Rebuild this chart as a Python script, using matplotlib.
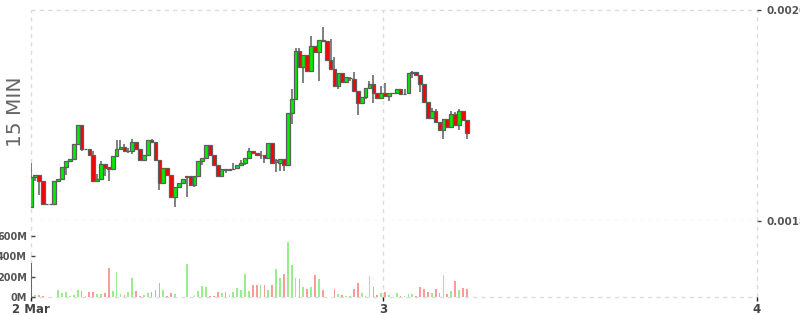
import numpy as np
import matplotlib.pyplot as plt
from matplotlib.ticker import FormatStrFormatter

plt.rcParams['font.family'] = 'DejaVu Sans'
plt.rcParams['font.weight'] = 'bold'

# 15 min candles
opens = [0.0018136, 0.0018420, 0.0018433, 0.0018376, 0.0018158, 0.0018158, 0.0018158, 0.0018376, 0.0018395, 0.0018515,
         0.0018566, 0.0018585, 0.0018727, 0.0018907, 0.0018685, 0.0018685, 0.0018623, 0.0018376, 0.0018395, 0.0018537,
         0.0018515, 0.0018490, 0.0018616, 0.0018680, 0.0018699, 0.0018666, 0.0018666, 0.0018746, 0.0018680, 0.0018578,
         0.0018623, 0.0018765, 0.0018746, 0.0018578, 0.0018357, 0.0018500, 0.0018433, 0.0018225, 0.0018319, 0.0018357,
         0.0018414, 0.0018427, 0.0018338, 0.0018427, 0.0018566, 0.0018597, 0.0018718, 0.0018623, 0.0018528, 0.0018427,
         0.0018496, 0.0018483, 0.0018496, 0.0018502, 0.0018528, 0.0018547, 0.0018597, 0.0018666, 0.0018642, 0.0018626,
         0.0018626, 0.0018597, 0.0018742, 0.0018555, 0.0018547, 0.0018591, 0.0018528, 0.0019027, 0.0019154, 0.0019609,
         0.0019457, 0.0019571, 0.0019419, 0.0019659, 0.0019602, 0.0019716, 0.0019703, 0.0019526, 0.0019444, 0.0019280,
         0.0019406, 0.0019318, 0.0019355, 0.0019349, 0.0019229, 0.0019116, 0.0019178, 0.0019258, 0.0019296, 0.0019210,
         0.0019166, 0.0019216, 0.0019185, 0.0019210, 0.0019210, 0.0019248, 0.0019204, 0.0019210, 0.0019400, 0.0019410,
         0.0019381, 0.0019296, 0.0019125, 0.0018973, 0.0019040, 0.0018936, 0.0018863, 0.0018970, 0.0018888, 0.0019017,
         0.0018907, 0.0019040, 0.0018957]
highs = [0.0018553, 0.0018433, 0.0018433, 0.0018376, 0.0018158, 0.0018158, 0.0018376, 0.0018395, 0.0018515, 0.0018566,
         0.0018585, 0.0018727, 0.0018907, 0.0018907, 0.0018685, 0.0018685, 0.0018666, 0.0018445, 0.0018569, 0.0018537,
         0.0018515, 0.0018616, 0.0018768, 0.0018768, 0.0018730, 0.0018692, 0.0018774, 0.0018746, 0.0018680, 0.0018623,
         0.0018765, 0.0018777, 0.0018746, 0.0018578, 0.0018500, 0.0018500, 0.0018433, 0.0018319, 0.0018357, 0.0018401,
         0.0018427, 0.0018427, 0.0018427, 0.0018566, 0.0018597, 0.0018718, 0.0018718, 0.0018623, 0.0018528, 0.0018496,
         0.0018496, 0.0018496, 0.0018547, 0.0018528, 0.0018578, 0.0018597, 0.0018689, 0.0018666, 0.0018642, 0.0018666,
         0.0018626, 0.0018742, 0.0018742, 0.0018591, 0.0018591, 0.0018591, 0.0019027, 0.0019248, 0.0019637, 0.0019637,
         0.0019571, 0.0019571, 0.0019754, 0.0019659, 0.0019716, 0.0019836, 0.0019703, 0.0019722, 0.0019552, 0.0019406,
         0.0019406, 0.0019362, 0.0019368, 0.0019412, 0.0019229, 0.0019178, 0.0019258, 0.0019327, 0.0019384, 0.0019210,
         0.0019280, 0.0019305, 0.0019210, 0.0019210, 0.0019248, 0.0019248, 0.0019248, 0.0019400, 0.0019422, 0.0019410,
         0.0019381, 0.0019296, 0.0019125, 0.0019071, 0.0019059, 0.0018936, 0.0018970, 0.0018970, 0.0019045, 0.0019033,
         0.0019059, 0.0019040, 0.0018957]
lows = [0.0018136, 0.0018382, 0.0018246, 0.0018158, 0.0018158, 0.0018158, 0.0018158, 0.0018376, 0.0018395, 0.0018436,
        0.0018566, 0.0018585, 0.0018727, 0.0018666, 0.0018685, 0.0018623, 0.0018376, 0.0018376, 0.0018395, 0.0018429,
        0.0018382, 0.0018490, 0.0018616, 0.0018680, 0.0018661, 0.0018642, 0.0018632, 0.0018680, 0.0018578, 0.0018578,
        0.0018623, 0.0018746, 0.0018578, 0.0018294, 0.0018357, 0.0018433, 0.0018225, 0.0018136, 0.0018319, 0.0018357,
        0.0018230, 0.0018338, 0.0018322, 0.0018427, 0.0018528, 0.0018597, 0.0018623, 0.0018528, 0.0018427, 0.0018427,
        0.0018452, 0.0018483, 0.0018483, 0.0018502, 0.0018528, 0.0018528, 0.0018597, 0.0018642, 0.0018626, 0.0018585,
        0.0018547, 0.0018597, 0.0018547, 0.0018467, 0.0018477, 0.0018477, 0.0018528, 0.0018919, 0.0019154, 0.0019457,
        0.0019311, 0.0019419, 0.0019419, 0.0019602, 0.0019330, 0.0019703, 0.0019526, 0.0019444, 0.0019280, 0.0019248,
        0.0019318, 0.0019318, 0.0019330, 0.0019229, 0.0019008, 0.0019116, 0.0019159, 0.0019258, 0.0019121, 0.0019166,
        0.0019166, 0.0019185, 0.0019135, 0.0019210, 0.0019210, 0.0019204, 0.0019204, 0.0019210, 0.0019351, 0.0019381,
        0.0019226, 0.0019125, 0.0018973, 0.0018973, 0.0018936, 0.0018863, 0.0018774, 0.0018888, 0.0018888, 0.0018907,
        0.0018860, 0.0018957, 0.0018780]
closes = [0.0018420, 0.0018433, 0.0018376, 0.0018158, 0.0018158, 0.0018158, 0.0018376, 0.0018395, 0.0018515, 0.0018566,
          0.0018585, 0.0018727, 0.0018907, 0.0018685, 0.0018685, 0.0018623, 0.0018376, 0.0018401, 0.0018537, 0.0018505,
          0.0018490, 0.0018616, 0.0018680, 0.0018699, 0.0018661, 0.0018666, 0.0018746, 0.0018680, 0.0018578, 0.0018623,
          0.0018765, 0.0018746, 0.0018578, 0.0018357, 0.0018500, 0.0018433, 0.0018225, 0.0018319, 0.0018357, 0.0018401,
          0.0018427, 0.0018338, 0.0018427, 0.0018566, 0.0018597, 0.0018718, 0.0018623, 0.0018528, 0.0018427, 0.0018496,
          0.0018483, 0.0018496, 0.0018496, 0.0018528, 0.0018547, 0.0018597, 0.0018666, 0.0018642, 0.0018626, 0.0018626,
          0.0018597, 0.0018742, 0.0018547, 0.0018580, 0.0018591, 0.0018528, 0.0019027, 0.0019154, 0.0019609, 0.0019457,
          0.0019571, 0.0019419, 0.0019659, 0.0019602, 0.0019716, 0.0019703, 0.0019526, 0.0019444, 0.0019280, 0.0019406,
          0.0019318, 0.0019362, 0.0019355, 0.0019229, 0.0019116, 0.0019178, 0.0019258, 0.0019296, 0.0019210, 0.0019166,
          0.0019216, 0.0019185, 0.0019210, 0.0019210, 0.0019248, 0.0019204, 0.0019204, 0.0019400, 0.0019410, 0.0019381,
          0.0019296, 0.0019125, 0.0018973, 0.0019040, 0.0018936, 0.0018863, 0.0018970, 0.0018888, 0.0019017, 0.0018907,
          0.0019040, 0.0018957, 0.0018831]
# volume in millions
volumes = [338, 16, 16, 7, 0, 0, 0, 69, 39, 46,
           7, 16, 69, 56, 7, 46, 46, 26, 26, 36,
           282, 56, 243, 26, 16, 46, 184, 56, 7, 16,
           36, 46, 66, 135, 66, 7, 36, 26, 0, 0,
           322, 0, 16, 56, 105, 95, 7, 7, 46, 36,
           46, 16, 46, 85, 66, 223, 56, 115, 115, 115,
           115, 66, 115, 272, 184, 223, 538, 312, 184, 174,
           95, 75, 95, 213, 174, 66, 0, 0, 75, 26,
           16, 7, 7, 75, 135, 36, 7, 204, 95, 16,
           36, 46, 16, 0, 36, 7, 7, 26, 26, 7,
           95, 75, 46, 36, 75, 36, 213, 26, 56, 154,
           66, 85, 75]

# candle index of midnight 3 Mar, 96 candles per day
day_start = 90.6
day_labels = ['2 Mar', '3', '4']
price_ticks = [0.0018, 0.0020]
vol_ticks = [0, 200, 400, 600]

o = np.array(opens)
h = np.array(highs)
l = np.array(lows)
c = np.array(closes)
vol = np.array(volumes) * 1e6
x = np.arange(len(o))
up = c >= o

grid_kw = dict(color='#dcdcdc', lw=1.0, ls=(0, (3, 3)))
edge = '#5e5e5e'

fig = plt.figure(figsize=(8, 3.15), dpi=100)
ax = fig.add_axes([31 / 800, 1 - 221 / 315, 726 / 800, 211 / 315])
axv = fig.add_axes([31 / 800, 1 - 297 / 315, 726 / 800, 76 / 315], sharex=ax)

xmax = day_start + 96
# price panel
ax.vlines(x, l, h, color=edge, lw=1.1, zorder=2)
ax.bar(x, np.abs(c - o), bottom=np.minimum(o, c), width=0.95,
       color=np.where(up, '#00ee00', '#ff0000'), edgecolor=edge, linewidth=0.9, zorder=3)
ax.set_xlim(0, xmax)
ax.set_ylim(price_ticks[0], price_ticks[-1])
ax.set_yticks(price_ticks)
ax.yaxis.set_major_formatter(FormatStrFormatter('%.4f'))
ax.yaxis.tick_right()
ax.tick_params(axis='y', length=3, width=1, color='#444444', pad=4, labelsize=7.5, labelcolor='#555555')
ax.tick_params(axis='x', bottom=False, labelbottom=False)
for y in price_ticks:
    ax.axhline(y, **grid_kw, clip_on=False, zorder=1)
for s in ax.spines.values():
    s.set_visible(False)

# volume panel
vcol = np.where(up, '#98ee8c', '#ff9a9a').astype(object)
vcol[0] = '#666666'  # first bar is drawn dark in the reference
axv.bar(x, vol, width=0.45, color=list(vcol), zorder=3)
axv.set_ylim(0, 750e6)
axv.set_yticks([v * 1e6 for v in vol_ticks])
axv.set_yticklabels([f'{v}M' for v in vol_ticks])
axv.tick_params(axis='y', direction='in', length=3, width=1, color='#444444', pad=3,
                labelsize=7, labelcolor='#555555')
axv.set_xticks([0, day_start, xmax])
axv.set_xticklabels(day_labels)
axv.tick_params(axis='x', length=3, width=1, color='#222222', pad=1, labelsize=8.5, labelcolor='#444444')
axv.axhline(0, **grid_kw, clip_on=False, zorder=1)
for s in axv.spines.values():
    s.set_visible(False)

for a in (ax, axv):
    for xv in (0, day_start, xmax):
        a.axvline(xv, **grid_kw, clip_on=False, zorder=1)

fig.text(15.5 / 800, 1 - 112 / 315, '15 MIN', rotation=90, ha='center', va='center',
         fontsize=14.5, fontweight='normal', color='#666666')

fig.savefig('out.png', dpi=100)
